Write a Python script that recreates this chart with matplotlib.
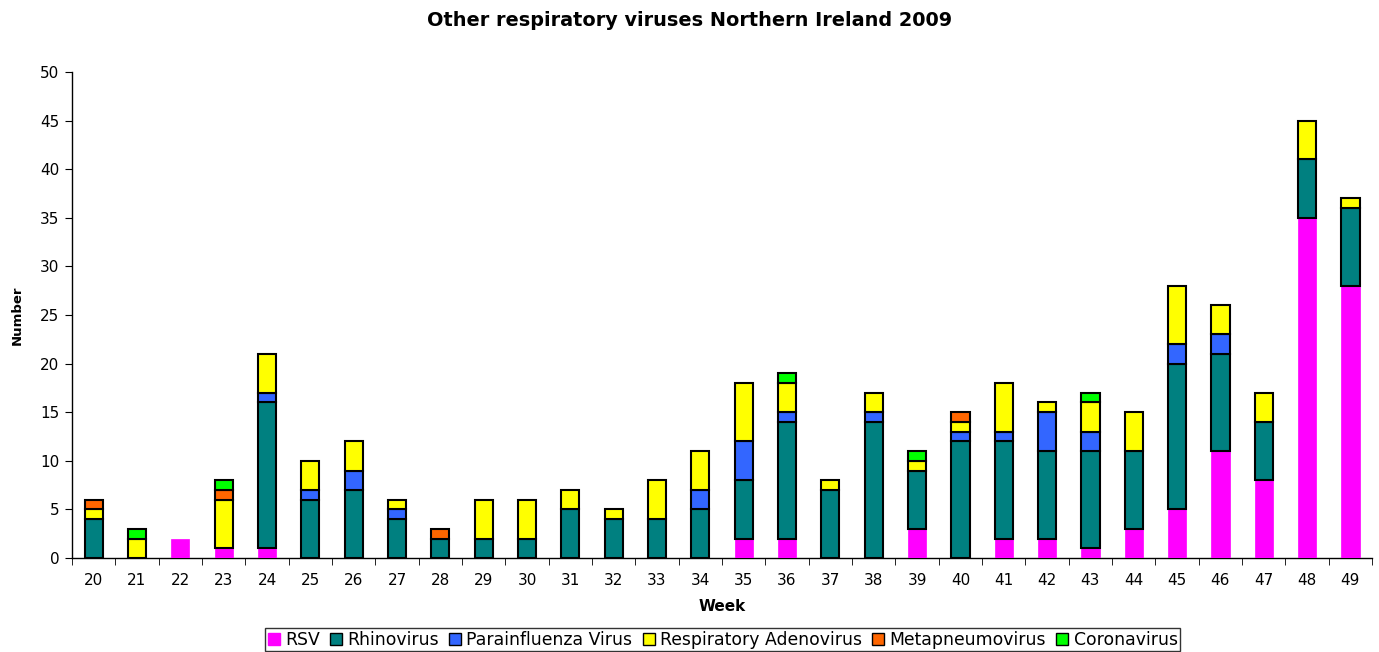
import matplotlib
matplotlib.use("Agg")
import matplotlib.pyplot as plt
import numpy as np

plt.rcParams['font.family'] = ['DejaVu Sans']

weeks = [str(w) for w in range(20, 50)]
rsv =        [0, 0, 2, 1, 1, 0, 0, 0, 0, 0, 0, 0, 0, 0, 0, 2, 2, 0, 0, 3, 0, 2, 2, 1, 3, 5, 11, 8, 35, 28]
rhino =      [4, 0, 0, 0, 15, 6, 7, 4, 2, 2, 2, 5, 4, 4, 5, 6, 12, 7, 14, 6, 12, 10, 9, 10, 8, 15, 10, 6, 6, 8]
para =       [0, 0, 0, 0, 1, 1, 2, 1, 0, 0, 0, 0, 0, 0, 2, 4, 1, 0, 1, 0, 1, 1, 4, 2, 0, 2, 2, 0, 0, 0]
adeno =      [1, 2, 0, 5, 4, 3, 3, 1, 0, 4, 4, 2, 1, 4, 4, 6, 3, 1, 2, 1, 1, 5, 1, 3, 4, 6, 3, 3, 4, 1]
meta =       [1, 0, 0, 1, 0, 0, 0, 0, 1, 0, 0, 0, 0, 0, 0, 0, 0, 0, 0, 0, 1, 0, 0, 0, 0, 0, 0, 0, 0, 0]
corona =     [0, 1, 0, 1, 0, 0, 0, 0, 0, 0, 0, 0, 0, 0, 0, 0, 1, 0, 0, 1, 0, 0, 0, 1, 0, 0, 0, 0, 0, 0]

series = [
    ("RSV", rsv, "#FF00FF"),
    ("Rhinovirus", rhino, "#008080"),
    ("Parainfluenza Virus", para, "#3366FF"),
    ("Respiratory Adenovirus", adeno, "#FFFF00"),
    ("Metapneumovirus", meta, "#FF6600"),
    ("Coronavirus", corona, "#00FF00"),
]

fig = plt.figure(figsize=(13.79, 6.52), dpi=100)
ax = fig.add_axes([0.0522, 0.1442, 0.9428, 0.7454])

x = np.arange(len(weeks))
bottom = np.zeros(len(weeks))
handles = []
for name, vals, col in series:
    v = np.array(vals, dtype=float)
    mask = v > 0
    if name == "RSV":
        ec, lw = col, 0.5
    else:
        ec, lw = "black", 1.5
    ax.bar(x[mask], v[mask], width=0.42, bottom=bottom[mask], color=col,
           edgecolor=ec, linewidth=lw, zorder=3)
    handles.append(plt.Rectangle((0, 0), 1, 1, facecolor=col,
                                 edgecolor=("black" if name != "RSV" else col), linewidth=1))
    bottom += v

ax.set_xlim(-0.5, len(weeks) - 0.5)
ax.set_ylim(0, 50)
ax.set_yticks(range(0, 51, 5))
ax.set_xticks(x)
ax.set_xticklabels(weeks)
ax.set_xticks(np.arange(-0.5, len(weeks), 1), minor=True)
ax.tick_params(axis='x', which='major', length=0, labelsize=11, pad=11)
ax.tick_params(axis='x', which='minor', length=5, direction='out')
ax.tick_params(axis='y', length=5, direction='out', labelsize=11, pad=4)
for s in ["top", "right"]:
    ax.spines[s].set_visible(False)
ax.spines['left'].set_linewidth(1)
ax.spines['bottom'].set_linewidth(1)

ax.set_xlabel("Week", fontsize=11, fontweight='bold', labelpad=8)
ax.set_ylabel("Number", fontsize=9.5, fontweight='bold', labelpad=12)

fig.text(0.5, 0.968, "Other respiratory viruses Northern Ireland 2009", ha='center', va='center',
         fontsize=13.9, fontweight='bold')

leg = fig.legend(handles, [s[0] for s in series], loc='upper center', bbox_to_anchor=(0.524, 0.0368),
                 ncol=6, frameon=True, fancybox=False, edgecolor='black', fontsize=12.4,
                 handlelength=0.7, handleheight=0.7, handletextpad=0.3, columnspacing=0.6,
                 borderpad=0.15, borderaxespad=0)
leg.get_frame().set_linewidth(1)

fig.savefig("out.png", dpi=100)
